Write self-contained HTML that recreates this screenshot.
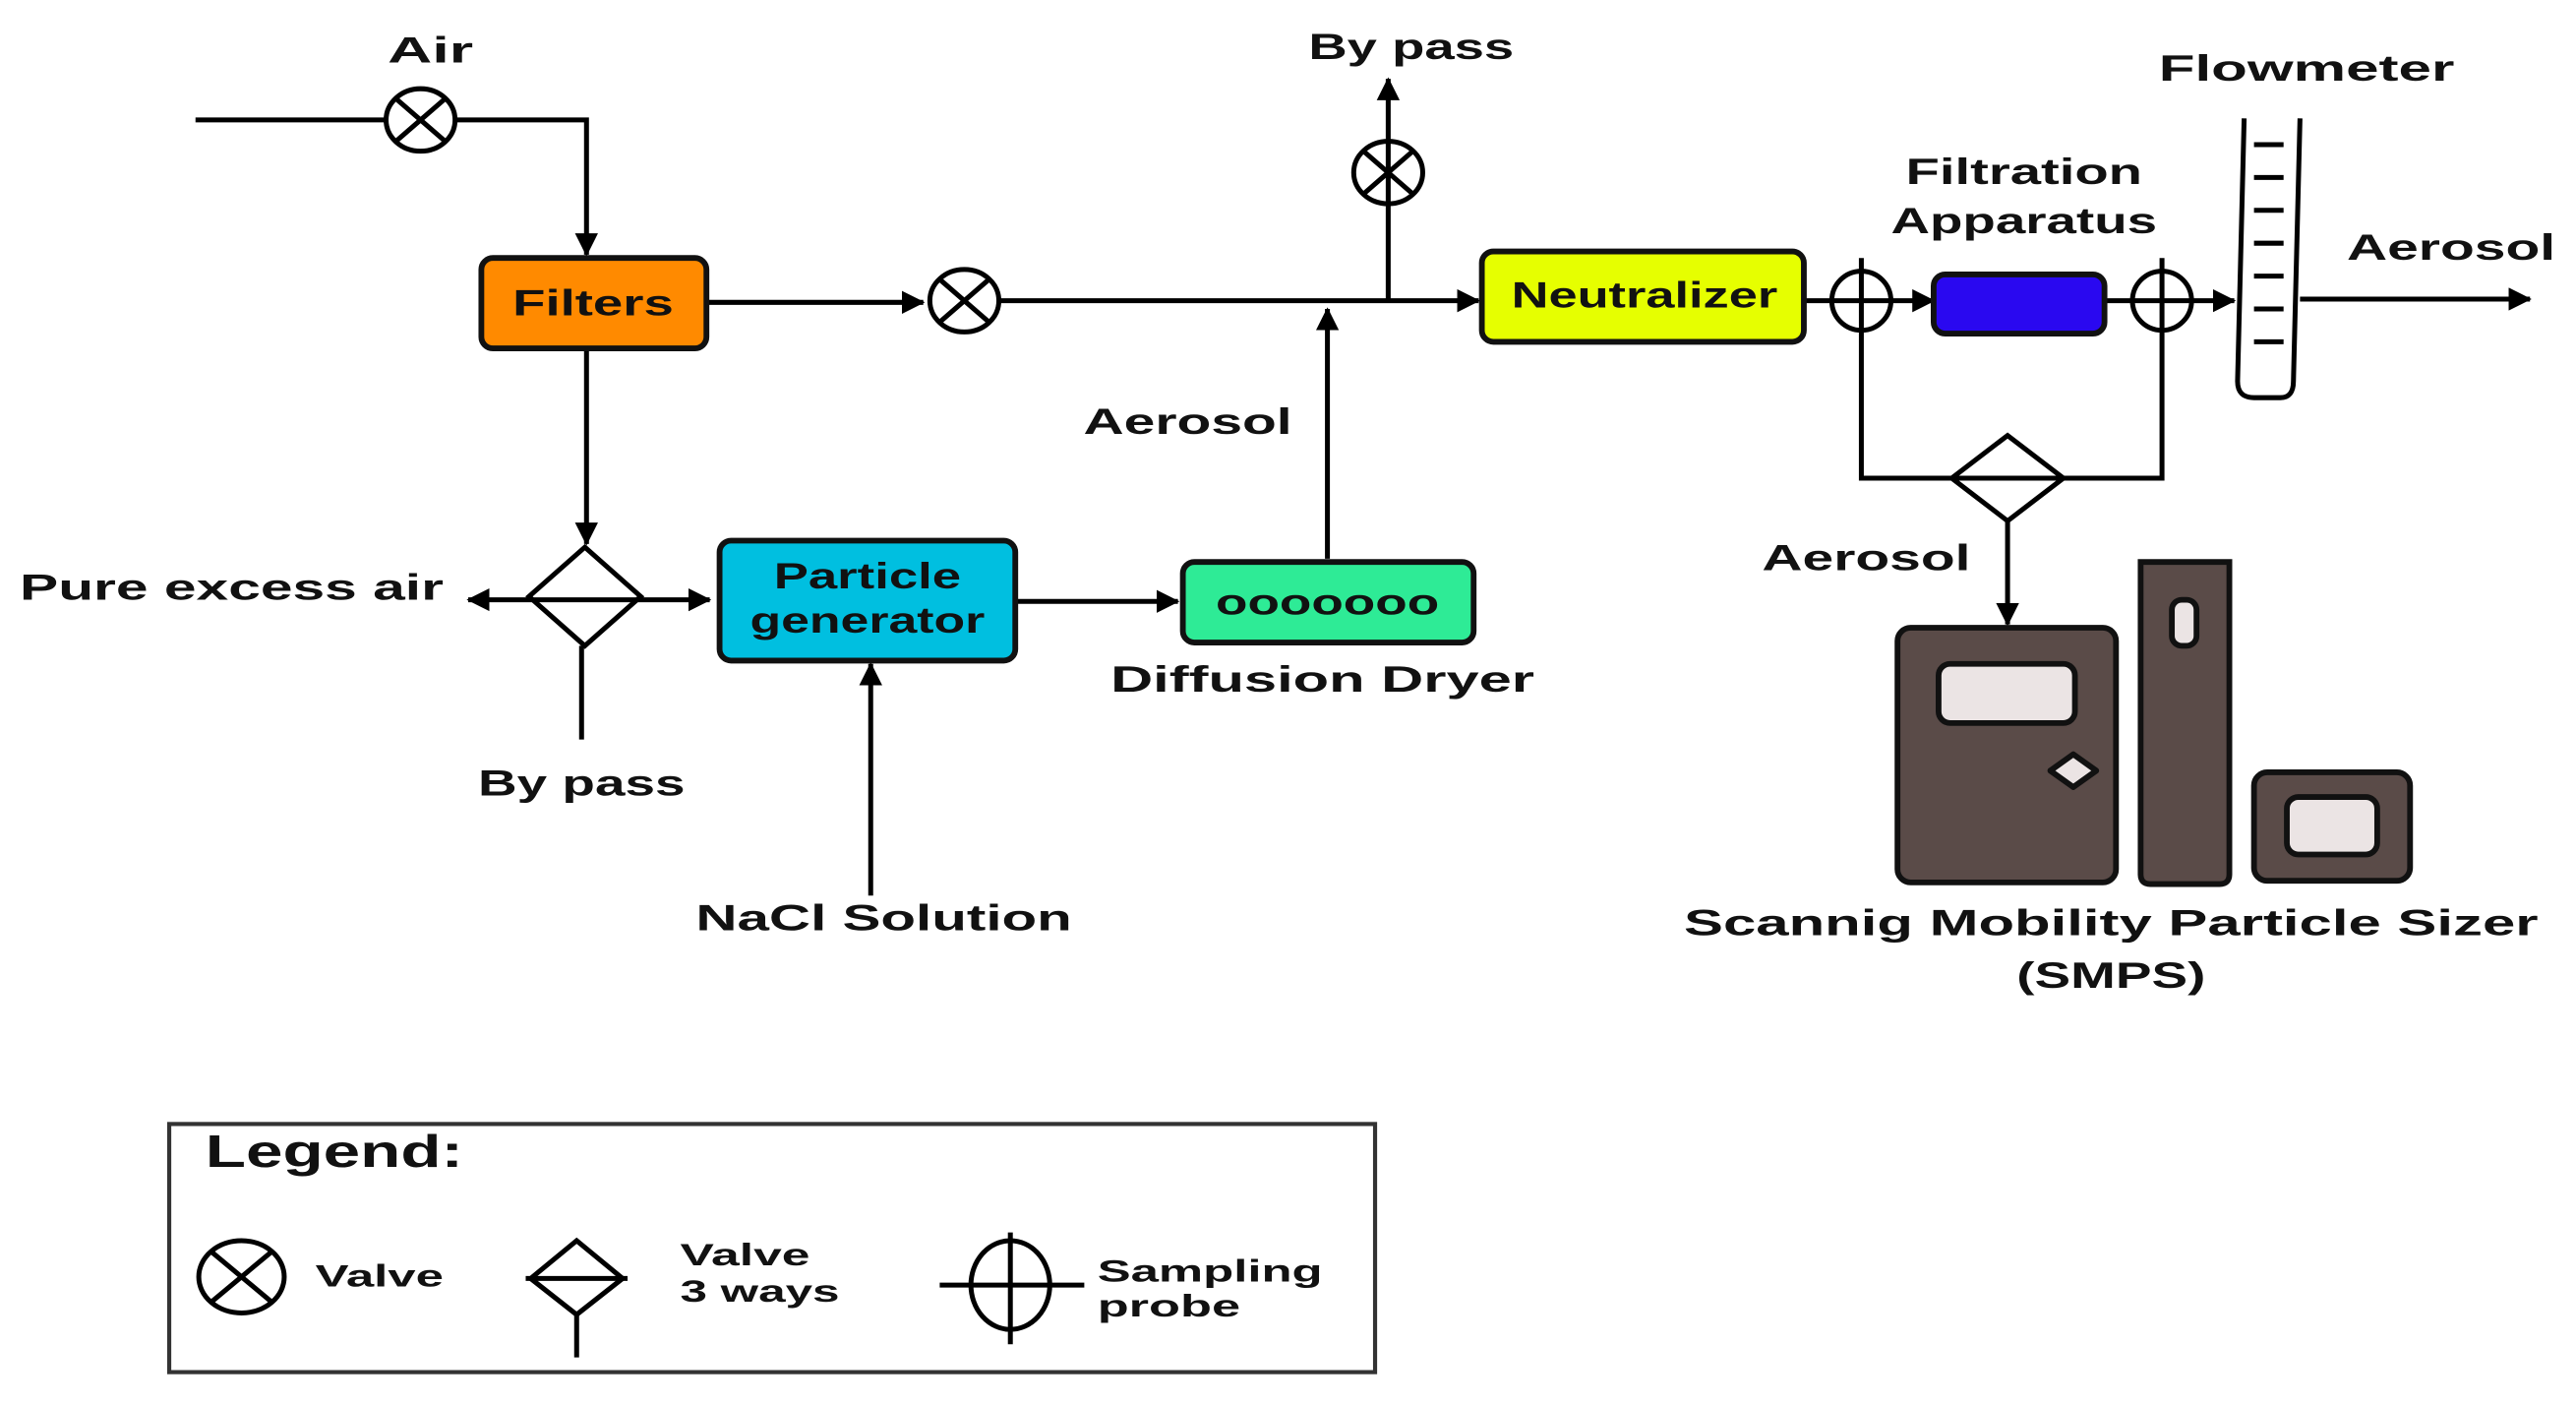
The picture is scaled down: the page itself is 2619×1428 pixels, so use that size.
<!DOCTYPE html>
<html><head><meta charset="utf-8"><style>
html,body{margin:0;padding:0;background:#fff;}
svg{display:block;}
text{font-family:"Liberation Sans",sans-serif;font-weight:bold;fill:#111;}
</style></head><body>
<svg width="2619" height="1428" viewBox="0 0 1568 855" preserveAspectRatio="none" xmlns="http://www.w3.org/2000/svg">
<defs>
<marker id="b" markerWidth="14" markerHeight="14" refX="13" refY="7" orient="auto-start-reverse" markerUnits="userSpaceOnUse"><path d="M0,0 L14,7 L0,14 Z" fill="#000"/></marker>
</defs>
<g stroke="#000" stroke-width="3" fill="none">
<path d="M119,73 H234"/>
<path d="M278,73 H357 V155" marker-end="url(#b)"/>
<ellipse cx="256" cy="73" rx="21" ry="19"/>
<path d="M241,60 L271,86 M271,60 L241,86"/>
<path d="M430,184 H562" marker-end="url(#b)"/>
<ellipse cx="587" cy="183" rx="21" ry="19"/>
<path d="M572,170 L602,196 M602,170 L572,196"/>
<path d="M609,183 H900" marker-end="url(#b)"/>
<path d="M845,183 V48" marker-end="url(#b)"/>
<ellipse cx="845" cy="105" rx="21" ry="19" fill="#fff"/>
<path d="M830,92 L860,118 M860,92 L830,118 M845,86 V124"/>
<path d="M808,340 V188" marker-end="url(#b)"/>
<path d="M357,212 V331" marker-end="url(#b)"/>
<path d="M356,333 L390,363 L356,393 L322,363 Z"/>
<path d="M285,365 H432" marker-start="url(#b)" marker-end="url(#b)"/>
<path d="M354,393 V450"/>
<path d="M618,366 H717" marker-end="url(#b)"/>
<path d="M530,545 V404" marker-end="url(#b)"/>
<path d="M1098,183 H1177" marker-end="url(#b)"/>
<circle cx="1133" cy="183" r="18"/>
<path d="M1133,157 V291 H1316 V157"/>
<path d="M1281,183 H1360" marker-end="url(#b)"/>
<circle cx="1316" cy="183" r="18"/>
<path d="M1222,265 L1256,291 L1222,317 L1188,291 Z" fill="#fff"/>
<path d="M1188,291 H1256"/>
<path d="M1222,317 V380" marker-end="url(#b)"/>
<path d="M1366,72 L1362,232 Q1362,242 1372,242 H1388 Q1396,242 1396,232 L1400,72"/>
<path d="M1372,88 H1390 M1372,108 H1390 M1372,128 H1390 M1372,148 H1390 M1372,168 H1390 M1372,188 H1390 M1372,208 H1390"/>
<path d="M1400,182 H1540" marker-end="url(#b)"/>
</g>
<g stroke="#111" stroke-width="3.5">
<rect x="293" y="157" width="137" height="55" rx="7" fill="#FF8A00"/>
<rect x="902" y="153" width="196" height="55" rx="7" fill="#E6FF00"/>
<rect x="1177" y="167" width="104" height="36" rx="7" fill="#2A08F0"/>
<rect x="438" y="329" width="180" height="73" rx="7" fill="#00BFE0"/>
<rect x="720" y="342" width="177" height="49" rx="7" fill="#2EEB96"/>
<rect x="1155" y="382" width="133" height="155" rx="8" fill="#5A4B48"/>
<rect x="1180" y="404" width="83" height="36" rx="7" fill="#EBE4E4"/>
<path d="M1262,459 L1276,469 L1262,479 L1248,469 Z" fill="#EBE4E4" stroke-linejoin="round"/>
<path d="M1303,342 H1357 V532 Q1357,538 1351,538 H1309 Q1303,538 1303,532 Z" fill="#5A4B48"/>
<rect x="1322" y="365" width="15" height="28" rx="6" fill="#EBE4E4"/>
<rect x="1372" y="470" width="95" height="66" rx="8" fill="#5A4B48"/>
<rect x="1392" y="485" width="55" height="35" rx="7" fill="#EBE4E4"/>
</g>
<g font-size="22" text-anchor="middle" lengthAdjust="spacingAndGlyphs">
<text x="262" y="38" textLength="52" lengthAdjust="spacingAndGlyphs">Air</text>
<text x="859" y="36" textLength="125" lengthAdjust="spacingAndGlyphs">By pass</text>
<text x="361" y="192" textLength="98" lengthAdjust="spacingAndGlyphs">Filters</text>
<text x="1001" y="187" textLength="162" lengthAdjust="spacingAndGlyphs">Neutralizer</text>
<text x="1232" y="112" textLength="144" lengthAdjust="spacingAndGlyphs">Filtration</text>
<text x="1232" y="142" textLength="162" lengthAdjust="spacingAndGlyphs">Apparatus</text>
<text x="1404" y="49" textLength="180" lengthAdjust="spacingAndGlyphs">Flowmeter</text>
<text x="1492" y="158" textLength="127" lengthAdjust="spacingAndGlyphs">Aerosol</text>
<text x="723" y="264" textLength="127" lengthAdjust="spacingAndGlyphs">Aerosol</text>
<text x="1136" y="347" textLength="127" lengthAdjust="spacingAndGlyphs">Aerosol</text>
<text x="141" y="365" textLength="258" lengthAdjust="spacingAndGlyphs">Pure excess air</text>
<text x="354" y="484" textLength="126" lengthAdjust="spacingAndGlyphs">By pass</text>
<text x="528" y="358" textLength="114" lengthAdjust="spacingAndGlyphs">Particle</text>
<text x="528" y="385" textLength="143" lengthAdjust="spacingAndGlyphs">generator</text>
<text x="808" y="374" textLength="136" lengthAdjust="spacingAndGlyphs">ooooooo</text>
<text x="805" y="421" textLength="258" lengthAdjust="spacingAndGlyphs">Diffusion Dryer</text>
<text x="538" y="566" textLength="229" lengthAdjust="spacingAndGlyphs">NaCl Solution</text>
<text x="1285" y="569" textLength="520" lengthAdjust="spacingAndGlyphs">Scannig Mobility Particle Sizer</text>
<text x="1285" y="601" textLength="115" lengthAdjust="spacingAndGlyphs">(SMPS)</text>
</g>
<rect x="103" y="684" width="734" height="151" fill="none" stroke="#333" stroke-width="2.5"/>
<text x="125" y="710" font-size="28" textLength="157" lengthAdjust="spacingAndGlyphs">Legend:</text>
<g stroke="#000" stroke-width="3" fill="none">
<ellipse cx="147" cy="777" rx="26" ry="22"/>
<path d="M129,762 L165,792 M165,762 L129,792"/>
<path d="M351,755 L379,778 L351,800 L323,778 Z"/>
<path d="M320,778 H382 M351,800 V826"/>
<ellipse cx="615" cy="782" rx="24" ry="27"/>
<path d="M572,782 H660 M615,750 V818"/>
</g>
<g font-size="19">
<text x="192" y="783" textLength="78" lengthAdjust="spacingAndGlyphs">Valve</text>
<text x="414" y="770" textLength="79" lengthAdjust="spacingAndGlyphs">Valve</text>
<text x="414" y="792" textLength="97" lengthAdjust="spacingAndGlyphs">3 ways</text>
<text x="668" y="780" textLength="137" lengthAdjust="spacingAndGlyphs">Sampling</text>
<text x="668" y="801" textLength="87" lengthAdjust="spacingAndGlyphs">probe</text>
</g>
</svg>
</body></html>
